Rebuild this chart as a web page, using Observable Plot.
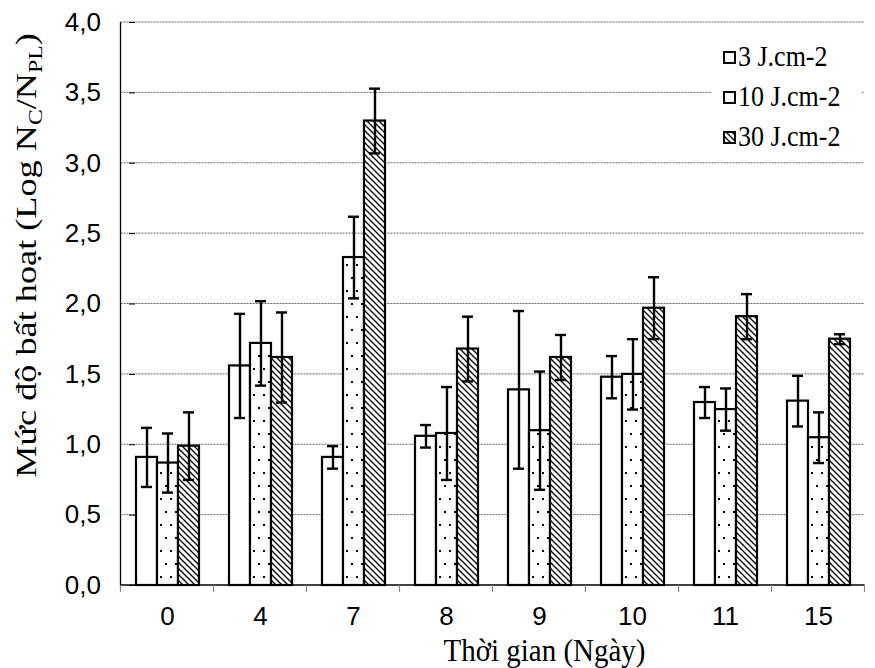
<!DOCTYPE html>
<html>
<head>
<meta charset="utf-8">
<script src="https://cdn.jsdelivr.net/npm/d3@7"></script>
<script src="https://cdn.jsdelivr.net/npm/@observablehq/plot@0.6"></script>
<style>
  html, body { margin: 0; padding: 0; background: #fff; }
  #chart svg { display: block; }
</style>
</head>
<body>
<div id="chart"></div>
<script>
// ---- Data ----
const days = ["0", "4", "7", "8", "9", "10", "11", "15"];
const doses = ["3 J.cm-2", "10 J.cm-2", "30 J.cm-2"];
const mean3  = [0.91, 1.56, 0.91, 1.06, 1.39, 1.48, 1.30, 1.31];
const err3   = [0.21, 0.37, 0.08, 0.08, 0.56, 0.15, 0.11, 0.18];
const mean10 = [0.87, 1.72, 2.33, 1.08, 1.10, 1.50, 1.25, 1.05];
const err10  = [0.21, 0.30, 0.29, 0.33, 0.42, 0.25, 0.15, 0.18];
const mean30 = [0.99, 1.62, 3.30, 1.68, 1.62, 1.97, 1.91, 1.75];
const err30  = [0.24, 0.32, 0.23, 0.23, 0.16, 0.22, 0.16, 0.035];
const yTicks = [0, 0.5, 1, 1.5, 2, 2.5, 3, 3.5, 4];
const yTitle = ["Mức độ bất hoạt (Log N", "C", "/N", "PL", ")"];
const xTitle = "Thời gian (Ngày)";

const means = [mean3, mean10, mean30];
const errs = [err3, err10, err30];
const rows = [];
days.forEach((d, i) => doses.forEach((s, j) => rows.push({
  day: d, dose: s, v: means[j][i], lo: means[j][i] - errs[j][i], hi: means[j][i] + errs[j][i]
})));

const W = 875, H = 668;
const fmt = d3.format(".1f");
const yFmt = v => fmt(v).replace(".", ",");
const sans = "'Liberation Sans', Arial, sans-serif";
const serif = "'Liberation Serif', 'Times New Roman', serif";

const chart = Plot.plot({
  width: W, height: H,
  marginLeft: 117, marginRight: 7, marginTop: 22, marginBottom: 83,
  style: {fontFamily: sans, fontSize: "26px", color: "#000", background: "#fff"},
  fx: {domain: days, paddingInner: 0.31, paddingOuter: 0.155, label: null, axis: "bottom", tickSize: 0, tickPadding: 21},
  x: {domain: doses, padding: 0, axis: null},
  y: {domain: [0, 4], ticks: yTicks, tickFormat: yFmt, label: null, tickSize: 6, tickPadding: 12, grid: false},
  color: {domain: doses, range: ["url(#pWhite)", "url(#pDots)", "url(#pHatch)"]},
  marks: [
    Plot.barY(rows, {fx: "day", x: "dose", y: "v", fill: "dose", stroke: "#000", strokeWidth: 2.2, inset: 0}),
    Plot.ruleX(rows, {fx: "day", x: "dose", y1: "lo", y2: "hi", stroke: "#000", strokeWidth: 2.4}),
    Plot.tickY(rows, {fx: "day", x: "dose", y: "hi", stroke: "#000", strokeWidth: 2.4, inset: 5}),
    Plot.tickY(rows, {fx: "day", x: "dose", y: "lo", stroke: "#000", strokeWidth: 2.4, inset: 5}),
  ]
});
document.getElementById("chart").appendChild(chart);

const svgEl = chart.tagName.toLowerCase() === "svg" ? chart : chart.querySelector("svg");
const svg = d3.select(svgEl);

// Library axis tick labels: size, colour, and alignment of the y labels
const yLabelSet = new Set(yTicks.map(yFmt));
svg.selectAll("text").attr("font-size", 26).style("font-size", "26px").style("font-family", sans).attr("fill", "#000");
svg.selectAll("text").each(function () {
  const t = this.textContent.trim();
  if (yLabelSet.has(t)) {
    const b = this.getBoundingClientRect();
    const s = svgEl.getBoundingClientRect();
    const dx = 101 - (b.right - s.left);
    const prev = this.getAttribute("transform") || "";
    this.setAttribute("transform", `translate(${dx},0) ${prev}`);
  }
});

// Pattern definitions
const defs = svg.insert("defs", ":first-child");
defs.append("pattern").attr("id", "pWhite").attr("patternUnits", "userSpaceOnUse").attr("width", 4).attr("height", 4)
  .append("rect").attr("width", 4).attr("height", 4).attr("fill", "#fff");
const pd = defs.append("pattern").attr("id", "pDots").attr("patternUnits", "userSpaceOnUse").attr("width", 10).attr("height", 26);
pd.append("rect").attr("width", 10).attr("height", 26).attr("fill", "#fff");
pd.append("rect").attr("x", 2).attr("y", 4).attr("width", 2).attr("height", 2).attr("fill", "#000");
pd.append("rect").attr("x", 7).attr("y", 17).attr("width", 2).attr("height", 2).attr("fill", "#000");
const ph = defs.append("pattern").attr("id", "pHatch").attr("patternUnits", "userSpaceOnUse").attr("width", 6).attr("height", 6);
ph.append("rect").attr("width", 6).attr("height", 6).attr("fill", "#fff");
ph.append("path").attr("d", "M-1,-1 L7,7 M-1,5 L1,7 M5,-1 L7,1").attr("stroke", "#000").attr("stroke-width", 1.3);

// Scales
const fxS = chart.scale("fx"), yS = chart.scale("y");
const y0 = yS.apply(0), yTop = yS.apply(4);
const left = fxS.apply(days[0]) - (fxS.step - fxS.bandwidth) / 2;
const right = fxS.apply(days[days.length - 1]) + fxS.bandwidth + (fxS.step - fxS.bandwidth) / 2;

// Gridlines behind everything
const grid = svg.insert("g", "defs + *");
yTicks.filter(v => v > 0).forEach(v => {
  grid.append("line").attr("x1", left).attr("x2", right).attr("y1", yS.apply(v)).attr("y2", yS.apply(v))
    .attr("stroke", "#666").attr("stroke-width", 1).attr("stroke-dasharray", "2,1");
});

// Axis lines and boundary ticks
const g = svg.append("g");
g.append("line").attr("x1", left).attr("x2", left).attr("y1", yTop).attr("y2", y0).attr("stroke", "#000").attr("stroke-width", 1.3);
g.append("line").attr("x1", left).attr("x2", right).attr("y1", y0).attr("y2", y0).attr("stroke", "#000").attr("stroke-width", 1.5);
d3.range(days.length + 1).forEach(k => {
  const x = left + k * fxS.step;
  g.append("line").attr("x1", x).attr("x2", x).attr("y1", y0).attr("y2", y0 + 7).attr("stroke", "#888").attr("stroke-width", 1.2);
});

// Axis titles
const midY = (y0 + yTop) / 2;
const midX = (left + right) / 2;
svg.append("text")
  .attr("transform", `translate(${midX + 52},${H - 7}) scale(1,1.12)`)
  .attr("text-anchor", "middle").attr("font-family", serif).attr("font-size", 29)
  .text(xTitle);
const yt = svg.append("text").attr("transform", `translate(36,${midY - 48}) scale(1,1.25) rotate(-90)`)
  .attr("text-anchor", "middle").attr("font-family", serif).attr("font-size", 29);
yTitle.forEach((t, i) => {
  const ts = yt.append("tspan").text(t);
  if (i === 1 || i === 3) ts.attr("font-size", 19).attr("dy", 6);
  else if (i === 2 || i === 4) ts.attr("dy", -6);
});

// Legend
const lg = svg.append("g");
lg.append("rect").attr("x", 712).attr("y", 36).attr("width", 150).attr("height", 120).attr("fill", "#fff");
const fills = ["url(#pWhite)", "url(#pWhite)", "url(#pHatch)"];
doses.forEach((s, i) => {
  const cy = 58 + i * 40;
  lg.append("rect").attr("x", 724).attr("y", cy - 6).attr("width", 11).attr("height", 11)
    .attr("fill", fills[i]).attr("stroke", "#000").attr("stroke-width", 2);
  lg.append("text").attr("transform", `translate(738,${cy + 8}) scale(1,1.15)`)
    .attr("text-anchor", "start").attr("font-family", serif).attr("font-size", 26).text(s);
});
</script>
</body>
</html>
